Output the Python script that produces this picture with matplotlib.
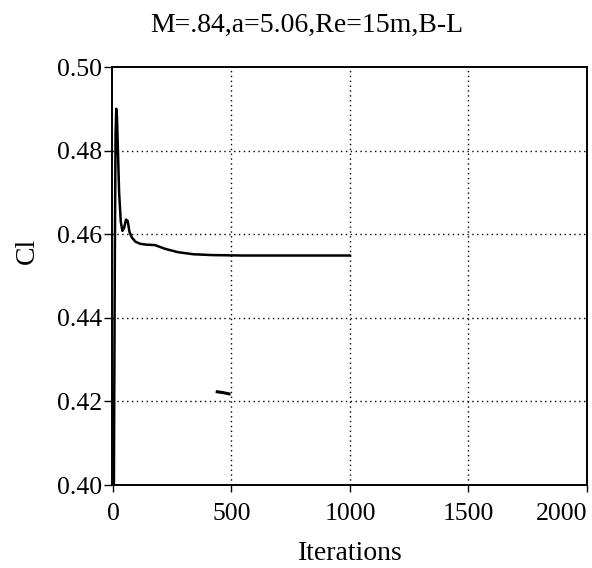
import matplotlib
matplotlib.use("Agg")
import matplotlib.pyplot as plt

# Data
iterations = [0, 4, 8, 11, 14, 17, 21, 26, 33, 40, 47, 55, 62, 70, 80, 95, 115, 140, 177, 220, 274, 340, 420, 550, 700, 850, 1000]
cl = [0.37, 0.40, 0.455, 0.484, 0.490, 0.488, 0.480, 0.470, 0.463, 0.4608, 0.4615, 0.4635, 0.4632, 0.4605, 0.4592, 0.4582, 0.4577, 0.4575, 0.4574, 0.4565, 0.4557, 0.4552, 0.4550, 0.4549, 0.4549, 0.4549, 0.4549]
mark_x = [440, 465, 490]
mark_y = [0.4223, 0.4221, 0.4218]

title = "M=.84,a=5.06,Re=15m,B-L"
xticks = [0, 500, 1000, 1500, 2000]
yticks = [0.40, 0.42, 0.44, 0.46, 0.48, 0.50]
ytick_labels = ["0.40", "0.42", "0.44", "0.46", "0.48", "0.50"]

plt.rcParams['font.family'] = ['Liberation Serif', 'DejaVu Serif']

fig = plt.figure(figsize=(5.92, 5.68), dpi=100)
ax = fig.add_axes([112/592, 1-485/568, (587-112)/592, (485-67)/568])

ax.plot(iterations, cl, color='black', lw=1.8, solid_joinstyle='round')
ax.plot(mark_x, mark_y, color='black', lw=2.2)

ax.set_xlim(-4, 2000)
ax.set_ylim(0.40, 0.50)
ax.set_xticks(xticks)
ax.set_yticks(yticks)
ax.set_yticklabels(ytick_labels)
ax.tick_params(axis='both', direction='out', width=1, colors='black')
ax.tick_params(axis='x', length=4.7, pad=8.5, labelsize=18.5)
ax.tick_params(axis='y', length=5.8, pad=1.5, labelsize=18.5)
lbls = ax.get_xticklabels()
lbls[-1].set_horizontalalignment('right')

for gx in [500, 1000, 1500]:
    ax.axvline(gx, color='black', lw=1.0, linestyle=(0, (1, 2.5)))
for gy in [0.42, 0.44, 0.46, 0.48]:
    ax.axhline(gy, color='black', lw=1.0, linestyle=(0, (1, 2.5)))

for s in ax.spines.values():
    s.set_linewidth(1.4)
    s.set_color('black')

fig.text(307/592, 1-32/568, title, ha='center', va='baseline', fontsize=20)
fig.text(350/592, 1-560/568, "Iterations", ha='center', va='baseline', fontsize=20)
fig.text(27/592, 1-251/568, "Cl", ha='center', va='center', rotation=90, fontsize=20)

fig.savefig("out.png", dpi=100)
